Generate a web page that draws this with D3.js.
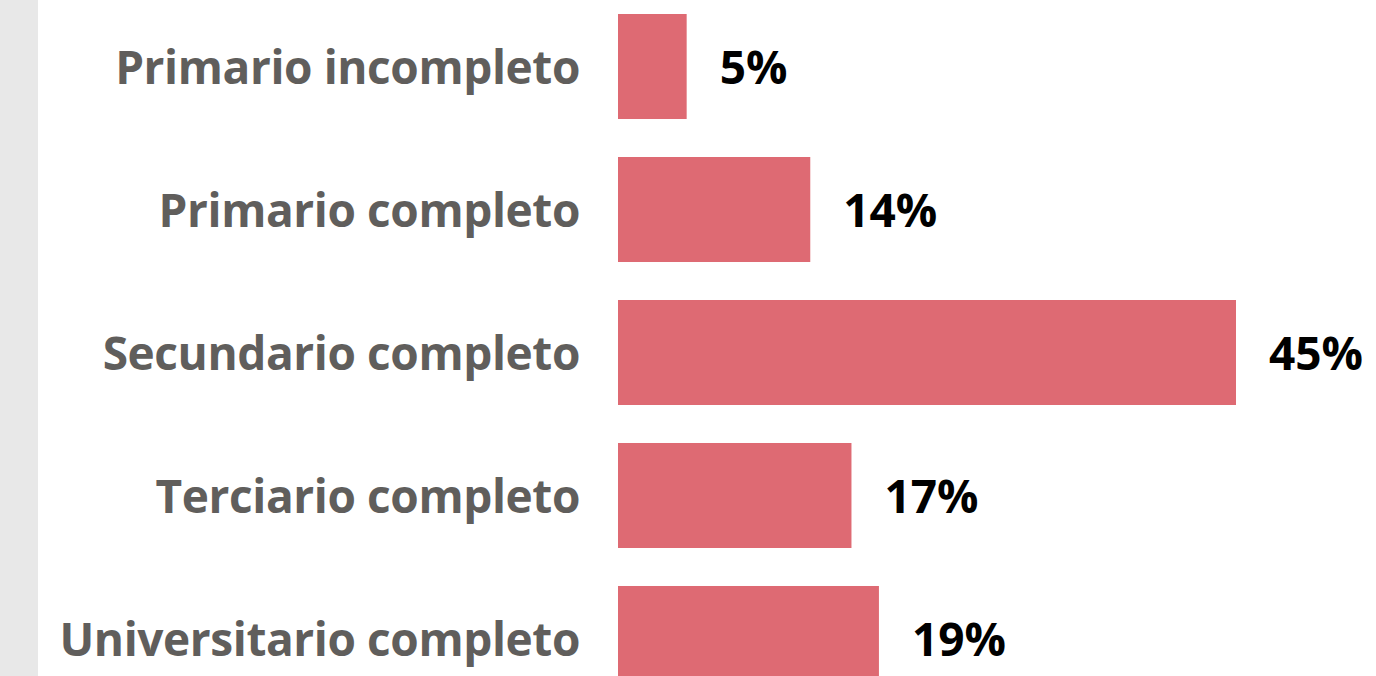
<!DOCTYPE html>
<html>
<head>
<meta charset="utf-8">
<script src="https://cdn.jsdelivr.net/npm/d3@7"></script>
<style>
  html, body { margin: 0; padding: 0; background: #ffffff; overflow: hidden; }
</style>
</head>
<body>
<div id="chart"></div>
<script>
// Education levels and their shares (%)
var categories = ["Primario incompleto", "Primario completo", "Secundario completo", "Terciario completo", "Universitario completo"];
var values = [5, 14, 45, 17, 19];

var drawChart = function(){
	const width = 1376;
	const height = 676;

	var barColor = "#de6a73";
	var labelColor = "#605e5c";
	var valueColor = "#000000";
	var fontFamily = "'Open Sans', 'Noto Sans', sans-serif";
	var fontSize = 46;

	var svg = d3.select('#chart')
		.append('svg')
		.attr("width", width)
		.attr("height", height);

	// gray strip on the left edge
	svg.append("rect")
		.attr("x", 0).attr("y", 0)
		.attr("width", 38).attr("height", height)
		.attr("fill", "#e8e8e8");

	var x = d3.scaleLinear()
		.domain([0, 45])
		.range([618, 1236]);

	var y = d3.scaleBand()
		.domain(categories)
		.range([-5, 710])
		.paddingInner(0.2657)
		.paddingOuter(0.1329);

	var data = categories.map(function(c, i){ return {cat: c, val: values[i]}; });

	svg.selectAll("rect.bar")
		.data(data)
		.enter().append("rect")
		.attr("class", "bar")
		.attr("x", x(0))
		.attr("y", function(d){ return y(d.cat); })
		.attr("width", function(d){ return x(d.val) - x(0); })
		.attr("height", y.bandwidth())
		.attr("fill", barColor);

	// category labels, right aligned next to the bars
	svg.selectAll("text.cat")
		.data(data)
		.enter().append("text")
		.attr("class", "cat")
		.attr("x", 580)
		.attr("y", function(d){ return y(d.cat) + y.bandwidth()/2; })
		.attr("dy", "0.37em")
		.attr("text-anchor", "end")
		.style("font-family", fontFamily)
		.style("font-weight", 700)
		.style("font-size", fontSize + "px")
		.style("letter-spacing", "-0.4px")
		.style("fill", labelColor)
		.text(function(d){ return d.cat; });

	svg.selectAll("text.val")
		.data(data)
		.enter().append("text")
		.attr("class", "val")
		.attr("x", function(d){ return x(d.val) + 33; })
		.attr("y", function(d){ return y(d.cat) + y.bandwidth()/2; })
		.attr("dy", "0.37em")
		.style("font-family", fontFamily)
		.style("font-weight", 700)
		.style("font-size", fontSize + "px")
		.style("fill", valueColor)
		.text(function(d){ return d.val + "%"; });
}

drawChart();
</script>
</body>
</html>
